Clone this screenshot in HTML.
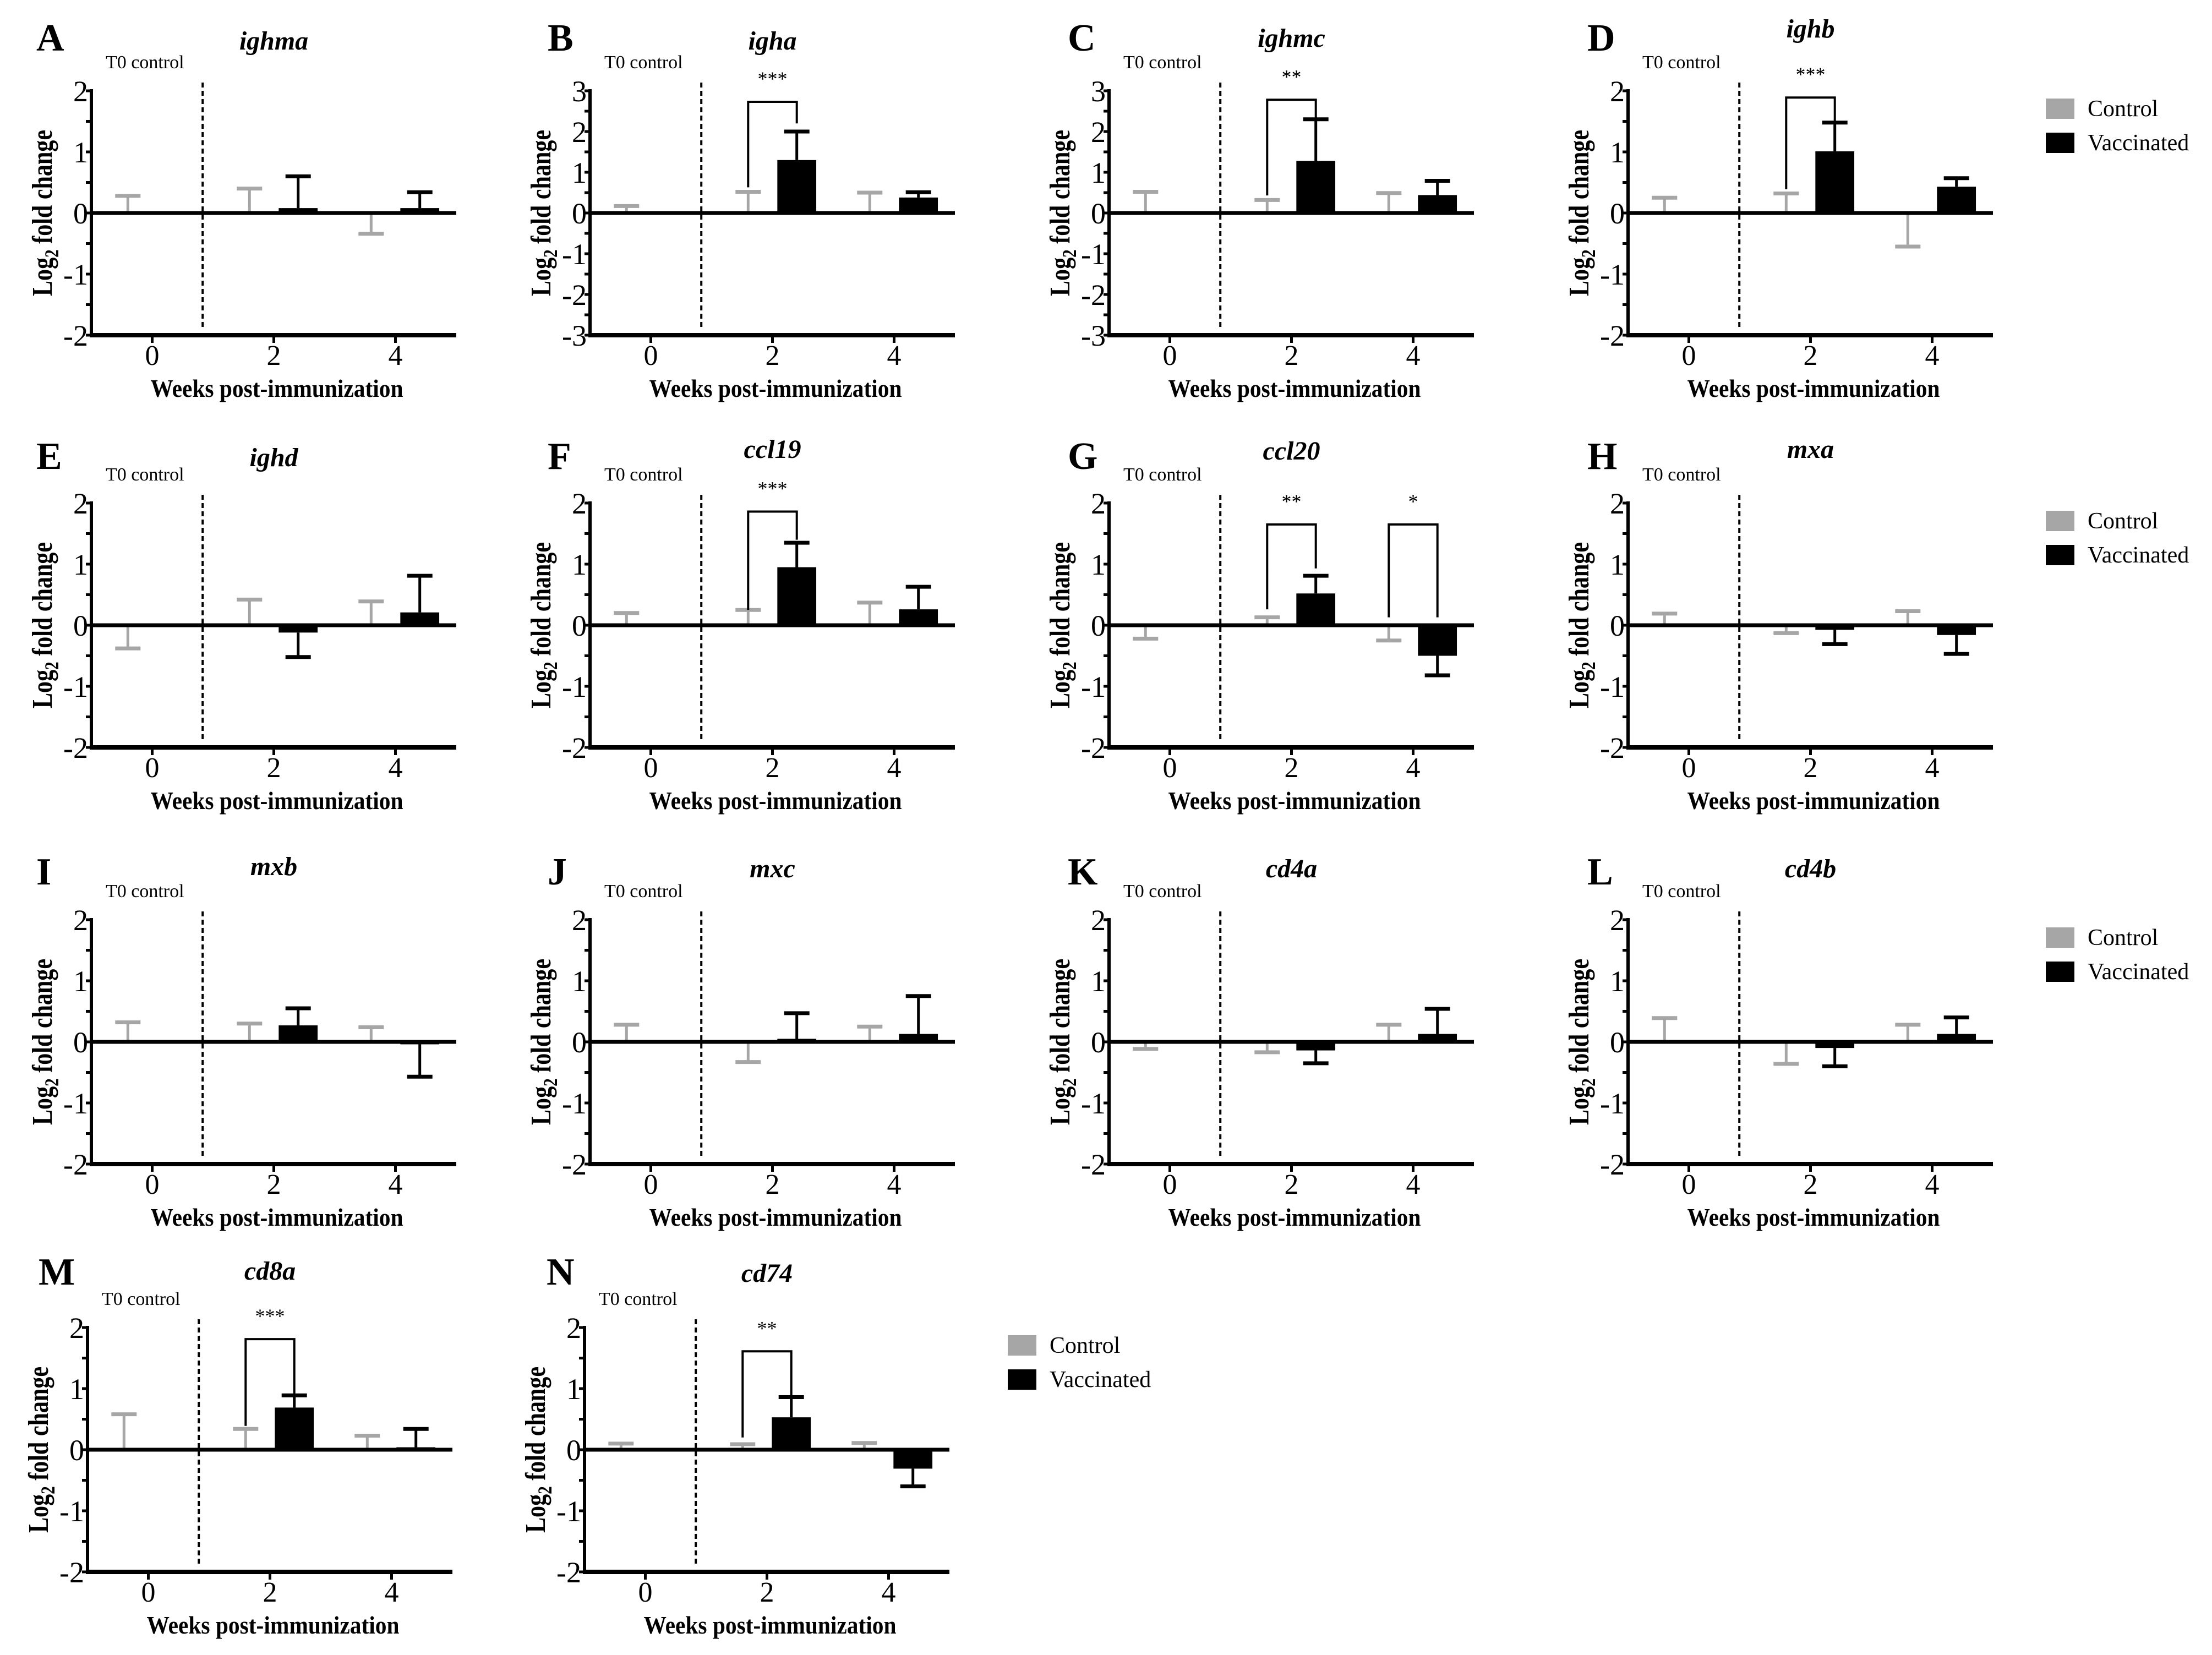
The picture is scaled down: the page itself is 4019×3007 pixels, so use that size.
<!DOCTYPE html>
<html>
<head>
<meta charset="utf-8">
<style>
html,body{margin:0;padding:0;background:#fff;}
svg{display:block;font-family:"Liberation Serif","DejaVu Serif",serif;}
svg text{font-family:"Liberation Serif","DejaVu Serif",serif;fill:#000;}
</style>
</head>
<body>
<svg id="fig" width="4019" height="3007" viewBox="0 0 4019 3007" font-family="Liberation Serif, serif" xmlns="http://www.w3.org/2000/svg">
<rect x="0" y="0" width="4019" height="3007" fill="#fff"/>
</svg>
<script>
// ---- data ----
const panelLetters = ['A','B','C','D','E','F','G','H','I','J','K','L','M','N'];
const genes = ['ighma','igha','ighmc','ighb','ighd','ccl19','ccl20','mxa','mxb','mxc','cd4a','cd4b','cd8a','cd74'];
const yMins = [-2,-3,-3,-2,-2,-2,-2,-2,-2,-2,-2,-2,-2,-2];
const yMaxs = [2,3,3,2,2,2,2,2,2,2,2,2,2,2];
const weeks = [0,2,4];
const vaccWeeks = [2,4];
// control means at weeks 0,2,4
const ctrlMeans = [
 [0,0,-0.02],[0,0,0],[0,0,0],[0,0,-0.02],
 [-0.03,0,0.02],[0,0,0],[0,0,-0.02],[0,-0.02,0],
 [0,0,0],[0,-0.02,0],[0,0,0],[0,0,0],
 [0,0,0],[0,0,0]
];
// control error-bar end values at weeks 0,2,4
const ctrlErrs = [
 [0.28,0.40,-0.34],[0.17,0.52,0.50],[0.52,0.32,0.49],[0.25,0.32,-0.55],
 [-0.38,0.42,0.39],[0.20,0.25,0.37],[-0.22,0.13,-0.25],[0.19,-0.13,0.23],
 [0.32,0.30,0.24],[0.28,-0.33,0.25],[-0.115,-0.17,0.28],[0.39,-0.36,0.28],
 [0.58,0.34,0.23],[0.10,0.09,0.11]
];
// vaccinated means at weeks 2,4
const vaccMeans = [
 [0.08,0.08],[1.30,0.38],[1.28,0.44],[1.01,0.43],
 [-0.12,0.21],[0.95,0.26],[0.52,-0.50],[-0.075,-0.16],
 [0.27,-0.04],[0.05,0.13],[-0.14,0.13],[-0.10,0.13],
 [0.69,0.04],[0.53,-0.31]
];
// vaccinated error-bar end values at weeks 2,4
const vaccErrs = [
 [0.60,0.34],[2.00,0.51],[2.30,0.79],[1.48,0.57],
 [-0.52,0.81],[1.35,0.63],[0.81,-0.82],[-0.31,-0.47],
 [0.55,-0.57],[0.47,0.75],[-0.35,0.54],[-0.40,0.40],
 [0.89,0.34],[0.86,-0.60]
];
// significance brackets
const sigPanels = [1,2,3,5,6,6,12,13];
const sigWeeks = [2,2,2,2,2,4,2,2];
const sigTops = [2.73,2.78,1.89,1.86,1.65,1.65,1.81,1.61];
const sigLeftEnds = [0.63,0.43,0.39,0.25,0.26,0.13,0.39,0.20];
const sigRightEnds = [2.20,2.34,1.48,1.40,0.93,0.13,0.89,0.86];
const sigLabels = ['***','**','***','***','**','*','***','**'];
const yTickValues = [[-2,-1,0,1,2],[-3,-2,-1,0,1,2,3]];

// ---- layout ----
const NS = 'http://www.w3.org/2000/svg';
const svg = document.getElementById('fig');
const colX = [166,1072,2015,2958];
const row4X = [159,1062];
const rowTop = [165,914,1671,2412];
const letterX = [66,995,1940,2884];
const row4LetterX = [70,993];
const letterBase = [92,852,1607,2334];
const titleOff = [-75,-75,-80,-97,-67,-82,-79,-82,-81,-77,-77,-77,-87,-83];
const PW = 663, PH = 444;
const GRAY = '#a6a6a6';
const FONT = 'Liberation Serif, serif';

function mk(tag, attrs, parent){
  const e = document.createElementNS(NS, tag);
  for (const k in attrs) e.setAttribute(k, attrs[k]);
  if (tag === 'text') e.setAttribute('font-family', FONT);
  (parent||svg).appendChild(e);
  return e;
}

function drawPanel(i){
  const row = Math.floor(i/4), col = i%4;
  const ax = row===3 ? row4X[col] : colX[col];
  const top = rowTop[row];
  const bottom = top + PH;
  const y0 = yMins[i], y1 = yMaxs[i];
  const X = w => ax + (w+1)*PW/6;
  const Y = v => top + (y1 - v)*PH/(y1 - y0);

  const g = mk('g', {'font-family': FONT});
  
  

  const L = mk('text', {x: row===3 ? row4LetterX[col] : letterX[col], y: letterBase[row], 'font-size': 70, 'font-weight': 'bold'}, g);
  L.textContent = panelLetters[i];
  
  

  const T = mk('text', {x: X(2), y: top + titleOff[i], 'font-size': 48, 'font-weight': 'bold', 'font-style': 'italic', 'text-anchor': 'middle'}, g);
  T.textContent = genes[i];
  
  

  const t0 = mk('text', {x: ax + 26, y: top - 41, 'font-size': 34}, g);
  t0.textContent = 'T0 control';
  
  

  const dl = mk('line', {x1: X(0.83), x2: X(0.83), y1: top - 15, y2: bottom - 10, stroke: '#000', 'stroke-width': 4, 'stroke-dasharray': '9 6'}, g);
  
  

  const ya = mk('line', {x1: ax, x2: ax, y1: top - 3, y2: bottom + 4, stroke: '#000', 'stroke-width': 6}, g);
  
  
  const ticks = yTickValues[y1 === 3 ? 1 : 0];
  for (let v = y0; v <= y1 + 1e-9; v += 0.5){
    const tk = mk('line', {x1: ax - 10, x2: ax, y1: Y(v), y2: Y(v), stroke: '#000', 'stroke-width': 5}, g);
    
    
  }
  ticks.forEach(v => {
    const tl = mk('text', {x: ax - 6, y: Y(v) + 19, 'font-size': 54, 'text-anchor': 'end'}, g);
    tl.textContent = String(v);
    
    
  });

  const yt = mk('text', {transform: 'translate(' + (ax - 72) + ',' + ((top + bottom)/2) + ') rotate(-90)', 'font-size': 52, 'font-weight': 'bold', 'text-anchor': 'middle', textLength: 302, lengthAdjust: 'spacingAndGlyphs'}, g);
  yt.innerHTML = 'Log<tspan font-size="36" dy="12">2</tspan><tspan dy="-12"> fold change</tspan>';
  
  

  const xa = mk('line', {x1: ax - 3, x2: ax + PW, y1: bottom, y2: bottom, stroke: '#000', 'stroke-width': 8}, g);
  
  
  weeks.forEach(w => {
    const tk = mk('line', {x1: X(w), x2: X(w), y1: bottom, y2: bottom + 14, stroke: '#000', 'stroke-width': 5}, g);
    
    
    const tl = mk('text', {x: X(w), y: bottom + 54, 'font-size': 52, 'text-anchor': 'middle'}, g);
    tl.textContent = String(w);
    
    
  });
  const xt = mk('text', {x: X(2.05), y: bottom + 112, 'font-size': 46, 'font-weight': 'bold', 'text-anchor': 'middle', textLength: 459, lengthAdjust: 'spacingAndGlyphs'}, g);
  xt.textContent = 'Weeks post-immunization';
  
  

  const BW = 0.64;
  function bar(cx, mean, err, color, name, lw){
    const ya0 = Y(0), ym = Y(mean);
    const r = mk('rect', {x: X(cx - BW/2), y: Math.min(ya0, ym), width: X(BW) - X(0), height: Math.max(Math.abs(ym - ya0), 1), fill: color}, g);
    
    
    const el = mk('line', {x1: X(cx), x2: X(cx), y1: ym, y2: Y(err), stroke: color, 'stroke-width': lw}, g);
    
    
    const cap = mk('line', {x1: X(cx) - 23, x2: X(cx) + 23, y1: Y(err), y2: Y(err), stroke: color, 'stroke-width': lw + 2}, g);
    
    
  }
  weeks.forEach((w, k) => bar(w - 0.4, ctrlMeans[i][k], ctrlErrs[i][k], GRAY, 'control-bar-week' + w, 5));
  vaccWeeks.forEach((w, k) => bar(w + 0.4, vaccMeans[i][k], vaccErrs[i][k], '#000', 'vaccinated-bar-week' + w, 5));

  const zl = mk('line', {x1: ax, x2: ax + PW, y1: Y(0), y2: Y(0), stroke: '#000', 'stroke-width': 7}, g);
  
  

  sigPanels.forEach((p, s) => {
    if (p !== i) return;
    const xl = X(sigWeeks[s] - 0.4), xr = X(sigWeeks[s] + 0.4), yt2 = Y(sigTops[s]);
    const br = mk('polyline', {points: xl + ',' + Y(sigLeftEnds[s]) + ' ' + xl + ',' + yt2 + ' ' + xr + ',' + yt2 + ' ' + xr + ',' + Y(sigRightEnds[s]), fill: 'none', stroke: '#000', 'stroke-width': 4}, g);
    
    
    const st = mk('text', {x: (xl + xr)/2, y: yt2 - 30, 'font-size': 36, 'text-anchor': 'middle'}, g);
    st.textContent = sigLabels[s];
    
    
  });
}

for (let i = 0; i < genes.length; i++) drawPanel(i);

const legendX = [3717,3717,3717,1831];
legendX.forEach((lx, r) => {
  const top = rowTop[r];
  const lg = mk('g', {'font-family': FONT});
  
  
  [['Control', GRAY, 14],['Vaccinated', '#000', 76]].forEach(([lab, col, off]) => {
    const sq = mk('rect', {x: lx, y: top + off, width: 52, height: 37, fill: col}, lg);
    
    
    const tx = mk('text', {x: lx + 76, y: top + off + 32, 'font-size': 42}, lg);
    tx.textContent = lab;
    
    
  });
});
</script>
</body>
</html>
